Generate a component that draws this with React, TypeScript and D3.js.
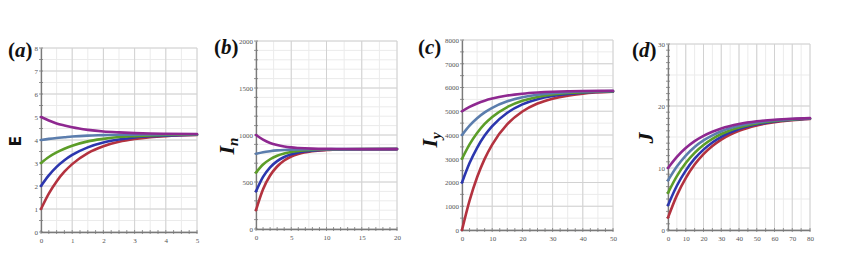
import React, { useEffect, useRef } from 'react'
import * as d3 from 'd3'

const COLORS = ['#b3323f', '#2c36ae', '#5c9d28', '#5b7dad', '#8e2890']

// panel (a): E against time
const xA = [0, 0.25, 0.5, 0.75, 1, 1.5, 2, 2.5, 3, 3.5, 4, 5]
const eRed = [1, 1.67, 2.2, 2.62, 2.95, 3.43, 3.73, 3.92, 4.04, 4.12, 4.17, 4.22]
const eBlue = [2, 2.46, 2.83, 3.12, 3.35, 3.68, 3.89, 4.02, 4.11, 4.16, 4.19, 4.23]
const eGreen = [3, 3.26, 3.46, 3.62, 3.75, 3.94, 4.05, 4.13, 4.17, 4.2, 4.22, 4.24]
const eSteel = [4, 4.05, 4.09, 4.12, 4.15, 4.19, 4.21, 4.23, 4.23, 4.24, 4.25, 4.25]
const ePurple = [5, 4.85, 4.72, 4.63, 4.55, 4.44, 4.37, 4.33, 4.3, 4.28, 4.27, 4.26]

// panel (b): In
const xB = [0, 1, 2, 3, 4, 5, 6, 8, 10, 12, 15, 20]
const inRed = [200, 423, 569, 665, 729, 771, 798, 827, 840, 846, 849, 850]
const inBlue = [400, 554, 656, 722, 766, 795, 814, 834, 843, 847, 849, 850]
const inGreen = [600, 686, 742, 779, 803, 819, 830, 841, 846, 848, 850, 850]
const inSteel = [800, 817, 828, 836, 841, 844, 846, 848, 849, 850, 850, 850]
const inPurple = [1000, 951, 915, 893, 878, 868, 862, 855, 852, 851, 850, 850]

// panel (c): Iy
const xC = [0, 2.5, 5, 7.5, 10, 15, 20, 25, 30, 35, 40, 50]
const iyRed = [0, 1239, 2219, 2994, 3598, 4455, 4990, 5324, 5530, 5659, 5741, 5819]
const iyBlue = [2000, 2817, 3463, 3974, 4372, 4937, 5290, 5510, 5646, 5731, 5785, 5836]
const iyGreen = [3000, 3606, 4085, 4464, 4759, 5178, 5440, 5603, 5704, 5767, 5807, 5845]
const iySteel = [4000, 4395, 4707, 4954, 5146, 5419, 5590, 5696, 5762, 5803, 5829, 5854]
const iyPurple = [5000, 5184, 5329, 5444, 5533, 5660, 5740, 5789, 5820, 5839, 5851, 5862]

// panel (d): J
const xD = [0, 5, 10, 15, 20, 25, 30, 40, 50, 60, 70, 80]
const jRed = [2, 5.58, 8.37, 10.55, 12.24, 13.55, 14.59, 16.01, 16.87, 17.39, 17.71, 17.91]
const jBlue = [4, 7.14, 9.58, 11.5, 12.97, 14.12, 15.03, 16.28, 17.04, 17.49, 17.77, 17.94]
const jGreen = [6, 8.7, 10.8, 12.44, 13.71, 14.7, 15.48, 16.55, 17.2, 17.59, 17.83, 17.98]
const jSteel = [8, 10.25, 12.01, 13.39, 14.45, 15.27, 15.93, 16.82, 17.36, 17.69, 17.89, 18.02]
const jPurple = [10, 11.81, 13.22, 14.33, 15.18, 15.85, 16.37, 17.09, 17.53, 17.79, 17.95, 18.05]

const panels = [
  {
    tag: 'a', tagX: 8, tagY: 57, title: 'E', titleX: 21, titleY: 141,
    left: 41, right: 197, top: 48, bottom: 232,
    xDomain: [0, 5], yDomain: [0, 8], xStep: 1, yStep: 1, xMinor: 0.5, yMinor: 0.5, xTick: 0.25, yTick: 0.5,
    xs: xA, series: [eRed, eBlue, eGreen, eSteel, ePurple],
  },
  {
    tag: 'b', tagX: 214, tagY: 54, title: 'I', sub: 'n', titleX: 234, titleY: 146,
    left: 256, right: 397, top: 41, bottom: 229,
    xDomain: [0, 20], yDomain: [0, 2000], xStep: 5, yStep: 500, xMinor: 2.5, yMinor: 100, xTick: 1, yTick: 100,
    xs: xB, series: [inRed, inBlue, inGreen, inSteel, inPurple],
  },
  {
    tag: 'c', tagX: 418, tagY: 54, title: 'I', sub: 'y', titleX: 437, titleY: 140,
    left: 462, right: 613, top: 40, bottom: 230,
    xDomain: [0, 50], yDomain: [0, 8000], xStep: 10, yStep: 1000, xMinor: 5, yMinor: 500, xTick: 2.5, yTick: 500,
    xs: xC, series: [iyRed, iyBlue, iyGreen, iySteel, iyPurple],
  },
  {
    tag: 'd', tagX: 632, tagY: 57, title: 'J', titleX: 653, titleY: 138,
    left: 668, right: 810, top: 44, bottom: 230,
    xDomain: [0, 80], yDomain: [0, 30], xStep: 10, yStep: 10, xMinor: 5, yMinor: 5, xTick: 5, yTick: 1,
    xs: xD, series: [jRed, jBlue, jGreen, jSteel, jPurple],
  },
]

const steps = (lo: number, hi: number, st: number) => d3.range(lo, hi + st / 2, st)

export default function App() {
  const ref = useRef<SVGSVGElement>(null)

  useEffect(() => {
    const svg = d3.select(ref.current)
    svg.selectAll('*').remove()

    panels.forEach((p) => {
      const x = d3.scaleLinear().domain(p.xDomain).range([p.left, p.right])
      const y = d3.scaleLinear().domain(p.yDomain).range([p.bottom, p.top])
      const g = svg.append('g')

      // minor grid
      g.selectAll('.vminor').data(steps(p.xDomain[0], p.xDomain[1], p.xMinor)).enter().append('line')
        .attr('x1', (d) => x(d)).attr('x2', (d) => x(d))
        .attr('y1', p.top).attr('y2', p.bottom)
        .attr('stroke', '#ebebeb').attr('stroke-width', 1)
      g.selectAll('.hminor').data(steps(p.yDomain[0], p.yDomain[1], p.yMinor)).enter().append('line')
        .attr('y1', (d) => y(d)).attr('y2', (d) => y(d))
        .attr('x1', p.left).attr('x2', p.right)
        .attr('stroke', '#ebebeb').attr('stroke-width', 1)

      // major grid
      g.selectAll('.vmajor').data(steps(p.xDomain[0], p.xDomain[1], p.xStep)).enter().append('line')
        .attr('x1', (d) => x(d)).attr('x2', (d) => x(d))
        .attr('y1', p.top).attr('y2', p.bottom)
        .attr('stroke', '#d2d2d2').attr('stroke-width', 1)
      g.selectAll('.hmajor').data(steps(p.yDomain[0], p.yDomain[1], p.yStep)).enter().append('line')
        .attr('y1', (d) => y(d)).attr('y2', (d) => y(d))
        .attr('x1', p.left).attr('x2', p.right)
        .attr('stroke', '#d2d2d2').attr('stroke-width', 1)

      // axes
      const xAxis = d3.axisBottom(x).tickValues(steps(p.xDomain[0], p.xDomain[1], p.xStep))
        .tickSize(0).tickPadding(6).tickFormat(d3.format('d'))
      const yAxis = d3.axisLeft(y).tickValues(steps(p.yDomain[0], p.yDomain[1], p.yStep))
        .tickSize(0).tickPadding(3).tickFormat(d3.format('d'))
      const gx = g.append('g').attr('transform', `translate(0,${p.bottom})`).call(xAxis)
      const gy = g.append('g').attr('transform', `translate(${p.left},0)`).call(yAxis)
      ;[gx, gy].forEach((ax) => {
        ax.select('.domain').attr('stroke', '#7a7a7a').attr('stroke-width', 1.3)
        ax.selectAll('text').attr('font-family', '"Liberation Serif", serif').attr('font-size', 7).attr('fill', '#555')
      })

      // small tick marks on the axes
      g.selectAll('.xt').data(steps(p.xDomain[0], p.xDomain[1], p.xTick)).enter().append('line')
        .attr('x1', (d) => x(d)).attr('x2', (d) => x(d))
        .attr('y1', p.bottom - 2).attr('y2', p.bottom + 2)
        .attr('stroke', '#7a7a7a').attr('stroke-width', 0.8)
      g.selectAll('.yt').data(steps(p.yDomain[0], p.yDomain[1], p.yTick)).enter().append('line')
        .attr('y1', (d) => y(d)).attr('y2', (d) => y(d))
        .attr('x1', p.left - 2).attr('x2', p.left + 2)
        .attr('stroke', '#7a7a7a').attr('stroke-width', 0.8)

      // curves
      const line = d3.line<number>()
        .x((_, i) => x(p.xs[i]))
        .y((d) => y(d))
        .curve(d3.curveMonotoneX)
      p.series.forEach((s, i) => {
        g.append('path').datum(s)
          .attr('d', line)
          .attr('fill', 'none')
          .attr('stroke', COLORS[i])
          .attr('stroke-width', 2.6)
          .attr('stroke-linecap', 'round')
      })

      // panel tag: upright brackets, italic letter
      const tag = g.append('text').attr('x', p.tagX).attr('y', p.tagY)
        .attr('font-family', '"Liberation Serif", serif')
        .attr('font-weight', 'bold').attr('font-size', 21).attr('fill', '#111')
      tag.append('tspan').text('(')
      tag.append('tspan').attr('font-style', 'italic').text(p.tag)
      tag.append('tspan').text(')')

      // y title
      const t = g.append('text')
        .attr('transform', `translate(${p.titleX},${p.titleY}) rotate(-90)`)
        .attr('text-anchor', 'middle').attr('fill', '#111')
      if (p.title === 'E') {
        t.attr('font-family', '"DejaVu Sans", sans-serif').attr('font-weight', 'bold').attr('font-size', 15).text('E')
      } else {
        t.attr('font-family', '"Liberation Serif", serif').attr('font-style', 'italic').attr('font-weight', 'bold')
        t.append('tspan').attr('font-size', 22).text(p.title)
        if (p.sub) t.append('tspan').attr('font-size', 15).attr('dy', 4).text(p.sub)
      }
    })
  }, [])

  return (
    <svg ref={ref} width={848} height={278}
      style={{ position: 'absolute', left: 0, top: 0, background: '#fff' }} />
  )
}
